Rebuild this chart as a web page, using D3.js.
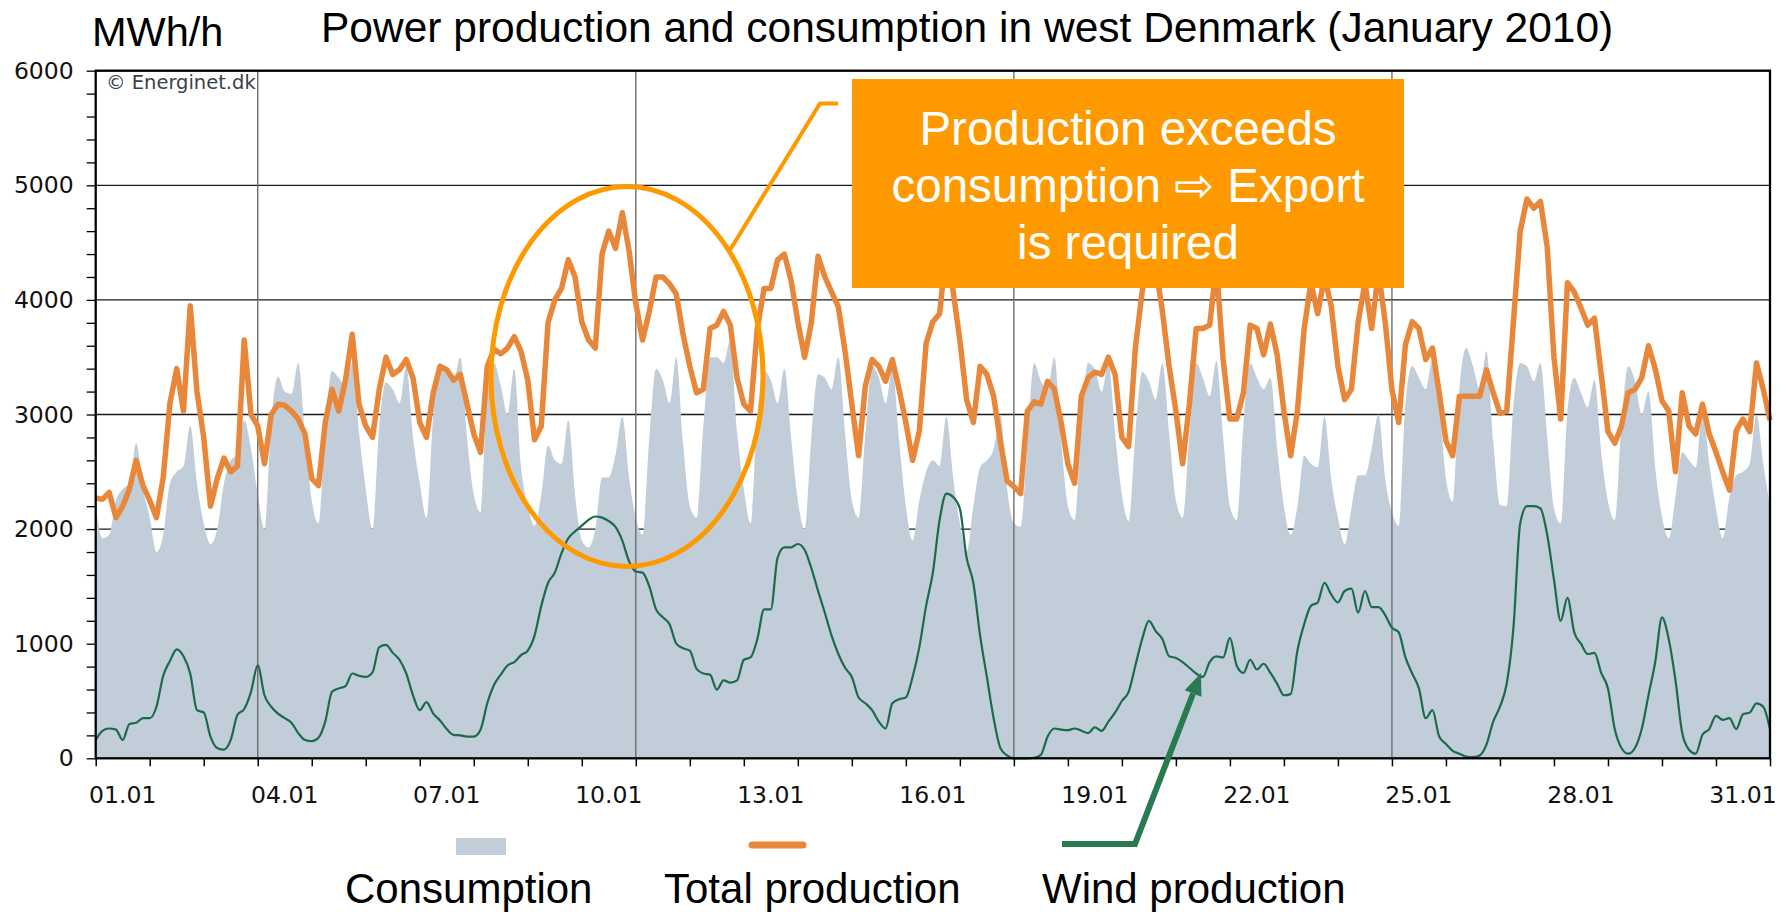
<!DOCTYPE html>
<html>
<head>
<meta charset="utf-8">
<script src="https://cdn.jsdelivr.net/npm/d3@7"></script>
<style>
  body { margin: 0; background: #fff; }
  svg { display: block; }
</style>
</head>
<body>
<div id="chart"></div>
<script>
// 3-hourly readings, one row per day (00,03,...,21h), last value = 01.02 00h
const consumption = [
  2210, 1920, 1950, 2250, 2350, 2400, 2750, 2350,
  2100, 1800, 1950, 2400, 2500, 2550, 2900, 2400,
  2050, 1870, 2000, 2400, 2600, 2650, 2950, 2700,
  2300, 2000, 2950, 3330, 3200, 3180, 3450, 2800,
  2250, 2050, 2900, 3380, 3320, 3250, 3450, 2850,
  2350, 2000, 2900, 3280, 3220, 3100, 3420, 2800,
  2400, 2100, 3000, 3450, 3400, 3300, 3500, 2800,
  2300, 2150, 3200, 3450, 3250, 3000, 3400, 2550,
  2200, 2030, 2300, 2730, 2600, 2570, 2950, 2300,
  1900, 1840, 2000, 2450, 2450, 2650, 2980, 2450,
  2100, 1950, 2800, 3400, 3300, 3100, 3500, 2750,
  2200, 2100, 2900, 3500, 3500, 3450, 3650, 2850,
  2350, 2050, 3000, 3380, 3300, 3100, 3400, 2800,
  2250, 2000, 2800, 3350, 3320, 3220, 3500, 2830,
  2250, 2100, 2830, 3420, 3320, 3100, 3400, 2770,
  2200, 1900, 2250, 2500, 2600, 2550, 2980, 2450,
  2050, 1800, 2200, 2540, 2600, 2700, 3000, 2350,
  2050, 2020, 2750, 3450, 3290, 3220, 3500, 2770,
  2200, 2080, 2930, 3450, 3390, 3200, 3450, 2830,
  2300, 2070, 2830, 3370, 3290, 3130, 3450, 2830,
  2250, 2100, 2830, 3450, 3320, 3160, 3470, 2800,
  2200, 2080, 2900, 3450, 3320, 3220, 3320, 2700,
  2200, 1950, 2200, 2640, 2570, 2540, 2980, 2440,
  2100, 1870, 2180, 2470, 2470, 2700, 3000, 2440,
  2150, 2030, 3100, 3420, 3320, 3220, 3480, 3100,
  2440, 2240, 3220, 3580, 3420, 3220, 3550, 2770,
  2210, 2200, 3090, 3450, 3420, 3290, 3450, 2800,
  2180, 2050, 3030, 3320, 3190, 3060, 3300, 2670,
  2240, 2080, 2930, 3420, 3290, 3000, 3200, 2540,
  2110, 1920, 2280, 2670, 2600, 2540, 3030, 2570,
  2180, 1920, 2280, 2470, 2500, 2570, 3000, 2570,
  2200
];
const totalProduction = [
  2270, 2260, 2320, 2100, 2200, 2350, 2600, 2380,
  2250, 2100, 2450, 3100, 3400, 3030, 3950, 3200,
  2800, 2200, 2440, 2620, 2500, 2550, 3650, 3000,
  2900, 2570, 3000, 3090, 3080, 3030, 2960, 2830,
  2440, 2380, 2930, 3220, 3030, 3300, 3700, 3090,
  2900, 2800, 3220, 3500, 3350, 3390, 3480, 3320,
  2930, 2800, 3190, 3420, 3390, 3300, 3350, 3090,
  2830, 2670, 3420, 3570, 3530, 3580, 3680, 3550,
  3300, 2780, 2900, 3800, 4000, 4100, 4350, 4200,
  3810, 3650, 3580, 4400, 4600, 4450, 4760, 4430,
  3970, 3650, 3900, 4200, 4200, 4140, 4050, 3700,
  3420, 3190, 3220, 3750, 3780, 3900, 3780, 3320,
  3090, 3030, 3750, 4100, 4100, 4350, 4400, 4170,
  3810, 3500, 3800, 4380, 4200, 4070, 3940, 3550,
  3090, 2640, 3250, 3480, 3420, 3290, 3480, 3220,
  2930, 2600, 2860, 3620, 3810, 3880, 4450, 4080,
  3650, 3130, 2930, 3420, 3350, 3160, 2770, 2420,
  2370, 2310, 3030, 3110, 3090, 3290, 3220, 2930,
  2570, 2400, 3160, 3320, 3370, 3350, 3500, 3350,
  2800, 2720, 3580, 4070, 4400, 4300, 3900, 3420,
  3030, 2570, 3090, 3750, 3750, 3780, 4300, 3480,
  2960, 2960, 3190, 3780, 3750, 3520, 3790, 3520,
  3030, 2640, 3030, 3750, 4150, 3880, 4200, 3950,
  3420, 3130, 3220, 3810, 4150, 3750, 4250, 3810,
  3220, 2930, 3610, 3810, 3750, 3480, 3580, 3190,
  2770, 2640, 3160, 3160, 3160, 3160, 3390, 3190,
  3010, 3030, 3810, 4600, 4880, 4800, 4860, 4460,
  3500, 2960, 4150, 4070, 3930, 3780, 3840, 3350,
  2850, 2750, 2900, 3190, 3220, 3320, 3600, 3400,
  3120, 3030, 2500, 3190, 2900, 2830, 3090, 2830,
  2670, 2500, 2340, 2860, 2960, 2850, 3450, 3220,
  2950
];
const windProduction = [
  160, 240, 260, 250, 160, 300, 310, 350,
  350, 450, 720, 850, 950, 890, 740, 420,
  400, 190, 90, 75, 160, 380, 430, 580,
  810, 550, 450, 390, 350, 310, 220, 160,
  150, 180, 320, 580, 610, 630, 740, 720,
  710, 750, 970, 990, 920, 860, 740, 550,
  420, 490, 390, 330, 255, 205, 200, 190,
  190, 250, 480, 640, 730, 810, 840, 900,
  940, 1070, 1330, 1530, 1620, 1790, 1920, 1980,
  2030, 2080, 2110, 2100, 2070, 2020, 1900, 1720,
  1630, 1620, 1500, 1300, 1230, 1170, 1000, 960,
  940, 780, 740, 730, 600, 680, 660, 680,
  860, 880, 1040, 1300, 1300, 1750, 1840, 1840,
  1870, 1820, 1660, 1460, 1270, 1070, 910, 790,
  710, 530, 480, 420, 320, 260, 480, 515,
  530, 710, 970, 1330, 1620, 2080, 2310, 2280,
  2180, 1750, 1530, 1070, 710, 350, 90, 25,
  0, 0, 0, 5, 30, 190, 260, 250,
  245, 260, 240, 220, 270, 240, 320, 400,
  500, 580, 810, 1040, 1200, 1110, 1040, 890,
  875, 840, 790, 740, 710, 840, 890, 880,
  1050, 810, 745, 860, 775, 825, 745, 650,
  550, 560, 940, 1170, 1330, 1360, 1530, 1430,
  1360, 1460, 1480, 1270, 1460, 1320, 1320, 1250,
  1140, 1100, 880, 740, 610, 350, 420, 190,
  125, 65, 40, 15, 10, 25, 120, 320,
  450, 650, 1140, 2050, 2200, 2200, 2180, 1950,
  1560, 1200, 1400, 1100, 1000, 910, 920, 745,
  610, 255, 90, 40, 90, 255, 550, 840,
  1230, 1040, 680, 220, 75, 40, 205, 255,
  370, 335, 350, 255, 385, 400, 480, 450,
  255
];
const dayLabels = ["01.01", "04.01", "07.01", "10.01", "13.01", "16.01", "19.01", "22.01", "25.01", "28.01", "31.01"];
const weekStarts = [4, 11, 18, 25];
const legendNames = ["Consumption", "Total production", "Wind production"];
const noteLines = ["Production exceeds", "consumption \u21E8 Export", "is required"];

const W = 1789, H = 914;
const start = Date.UTC(2010, 0, 1), end = Date.UTC(2010, 1, 1);
const step = 3 * 3600 * 1000;
const time = i => new Date(start + i * step);

const x = d3.scaleUtc().domain([start, end]).range([95.7, 1770]);
const y = d3.scaleLinear().domain([0, 6000]).range([758.3, 70.7]);

const svg = d3.select("#chart").append("svg")
  .attr("width", W).attr("height", H)
  .attr("viewBox", `0 0 ${W} ${H}`);

const sans = "'Liberation Sans', Arial, sans-serif";
const verd = "'DejaVu Sans', Verdana, sans-serif";

// horizontal grid under the area
svg.append("g").selectAll("line")
  .data(d3.range(1000, 6001, 1000))
  .join("line")
  .attr("x1", x.range()[0]).attr("x2", x.range()[1])
  .attr("y1", d => y(d)).attr("y2", d => y(d))
  .attr("stroke", "#1a1a1a").attr("stroke-width", 1.3);

svg.append("path")
  .datum(consumption)
  .attr("fill", "#c1ced9")
  .attr("d", d3.area().x((d, i) => x(time(i))).y0(y(0)).y1(d => y(d)).curve(d3.curveMonotoneX));

// weekly separators
svg.append("g").selectAll("line")
  .data(weekStarts)
  .join("line")
  .attr("x1", d => x(Date.UTC(2010, 0, d))).attr("x2", d => x(Date.UTC(2010, 0, d)))
  .attr("y1", y(6000)).attr("y2", y(0))
  .attr("stroke", "#6e6e6e").attr("stroke-width", 1.4);

svg.append("path")
  .datum(totalProduction)
  .attr("fill", "none")
  .attr("stroke", "#e8873a")
  .attr("stroke-width", 5.5)
  .attr("stroke-linejoin", "round")
  .attr("d", d3.line().x((d, i) => x(time(i))).y(d => y(d)));

svg.append("path")
  .datum(windProduction)
  .attr("fill", "none")
  .attr("stroke", "#1b6b4b")
  .attr("stroke-width", 2.2)
  .attr("stroke-linejoin", "round")
  .attr("d", d3.line().x((d, i) => x(time(i))).y(d => y(d)).curve(d3.curveMonotoneX));

// frame
svg.append("rect")
  .attr("x", x.range()[0]).attr("y", y(6000))
  .attr("width", x.range()[1] - x.range()[0]).attr("height", y(0) - y(6000))
  .attr("fill", "none").attr("stroke", "#000").attr("stroke-width", 2.3);

// y axis
const yAxis = svg.append("g")
  .attr("transform", `translate(${x.range()[0]},0)`)
  .call(d3.axisLeft(y).tickValues(d3.range(0, 6001, 200)).tickSize(9).tickPadding(13)
    .tickFormat(d => d % 1000 === 0 ? d : ""));
yAxis.select(".domain").remove();
yAxis.selectAll(".tick line").attr("stroke", "#000").attr("stroke-width", 1.3);
yAxis.selectAll("text").attr("font-family", verd).attr("font-size", 23.5).attr("fill", "#111");

// x axis: ticks at every midnight, labels at noon
const xAxis = svg.append("g")
  .attr("transform", `translate(0,${y(0)})`)
  .call(d3.axisBottom(x).ticks(d3.utcDay.every(1)).tickSize(8).tickFormat(""));
xAxis.select(".domain").remove();
xAxis.selectAll(".tick line").attr("stroke", "#000").attr("stroke-width", 1.5);

svg.append("g").selectAll("text")
  .data(dayLabels)
  .join("text")
  .attr("x", d => x(Date.UTC(2010, 0, +d.slice(0, 2), 12)))
  .attr("y", 803)
  .attr("text-anchor", "middle")
  .attr("font-family", verd).attr("font-size", 23.5).attr("fill", "#111")
  .text(d => d);

svg.append("text")
  .attr("x", 106).attr("y", 89)
  .attr("font-family", verd).attr("font-size", 19.5).attr("fill", "#3a3f4a")
  .text("\u00A9 Energinet.dk");

// titles
svg.append("text")
  .attr("x", 92).attr("y", 46)
  .attr("font-family", sans).attr("font-size", 41.5)
  .text("MWh/h");
svg.append("text")
  .attr("x", 321).attr("y", 42)
  .attr("font-family", sans).attr("font-size", 42.5)
  .text("Power production and consumption in west Denmark (January 2010)");

// annotation
const accent = "#fe9a00";
svg.append("ellipse")
  .attr("cx", 627).attr("cy", 376.5).attr("rx", 136).attr("ry", 190)
  .attr("fill", "none").attr("stroke", accent).attr("stroke-width", 5);
svg.append("polyline")
  .attr("points", "730,250 820,103.5 838,103.5")
  .attr("fill", "none").attr("stroke", accent).attr("stroke-width", 4);
svg.append("rect")
  .attr("x", 852).attr("y", 79).attr("width", 552).attr("height", 209)
  .attr("fill", accent);
svg.append("g").selectAll("text")
  .data(noteLines)
  .join("text")
  .attr("x", 1128).attr("y", (d, i) => 145 + i * 57)
  .attr("text-anchor", "middle")
  .attr("font-family", sans).attr("font-size", 47.5).attr("fill", "#fff")
  .text(d => d);

// legend
svg.append("rect")
  .attr("x", 456).attr("y", 838).attr("width", 50).attr("height", 17)
  .attr("fill", "#c1ced9");
svg.append("line")
  .attr("x1", 752).attr("x2", 803).attr("y1", 845).attr("y2", 845)
  .attr("stroke", "#e8873a").attr("stroke-width", 7).attr("stroke-linecap", "round");

const green = "#2a7a50";
const tip = [1201, 673], knee = [1135, 844];
const ang = Math.atan2(tip[1] - knee[1], tip[0] - knee[0]);
const headLen = 22, headW = 9;
const base = [tip[0] - headLen * Math.cos(ang), tip[1] - headLen * Math.sin(ang)];
svg.append("polyline")
  .attr("points", `1062,844 ${knee.join(",")} ${base.join(",")}`)
  .attr("fill", "none").attr("stroke", green).attr("stroke-width", 6);
svg.append("polygon")
  .attr("points", [
    tip,
    [base[0] + headW * Math.sin(ang), base[1] - headW * Math.cos(ang)],
    [base[0] - headW * Math.sin(ang), base[1] + headW * Math.cos(ang)]
  ].map(p => p.join(",")).join(" "))
  .attr("fill", green);

svg.append("g").selectAll("text")
  .data(legendNames)
  .join("text")
  .attr("x", (d, i) => [345, 664, 1042][i]).attr("y", 903)
  .attr("font-family", sans).attr("font-size", 42)
  .text(d => d);
</script>
</body>
</html>
